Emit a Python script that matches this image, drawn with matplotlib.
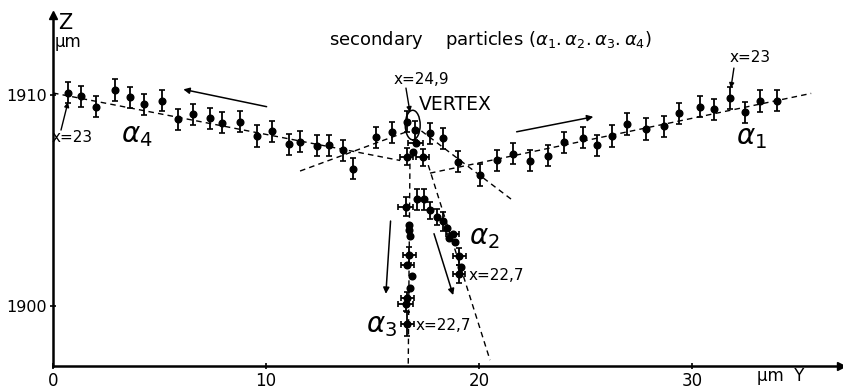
import matplotlib
matplotlib.use("Agg")
import matplotlib.pyplot as plt
from matplotlib.patches import Ellipse

plt.rcParams['font.family'] = ['DejaVu Sans']

# ---------------- data (Y in µm, Z in µm) ----------------
a4_y = [0.72, 1.31, 2.02, 2.91, 3.62, 4.27, 5.10, 5.88, 6.56, 7.37, 7.92, 8.78, 9.56, 10.30,
        11.09, 11.60, 12.38, 12.97, 13.63, 14.10, 15.16, 15.90]
a4_z = [1910.11, 1909.95, 1909.45, 1910.24, 1909.89, 1909.57, 1909.73, 1908.85, 1909.10, 1908.90,
        1908.69, 1908.74, 1908.06, 1908.29, 1907.66, 1907.79, 1907.60, 1907.63, 1907.39, 1906.50,
        1908.00, 1908.23]

vtx_y = [16.60, 17.00, 17.04, 16.60, 16.89, 17.36]
vtx_z = [1908.73, 1908.34, 1907.74, 1907.08, 1907.31, 1907.05]
vtx_xerr = [0, 0, 0.35, 0.3, 0, 0.3]
vtx_yerr = [0.5, 0.45, 0, 0.4, 0, 0.4]

a1_y = [17.70, 18.32, 19.03, 20.05, 20.83, 21.58, 22.39, 23.25, 23.99, 24.87, 25.55, 26.26,
        26.93, 27.83, 28.70, 29.40, 30.38, 31.02, 31.80, 32.49, 33.21, 33.98]
a1_z = [1908.18, 1907.95, 1906.84, 1906.21, 1906.92, 1907.22, 1906.88, 1907.12, 1907.76, 1907.98,
        1907.63, 1908.06, 1908.63, 1908.39, 1908.53, 1909.13, 1909.45, 1909.32, 1909.86, 1909.19,
        1909.72, 1909.73]

a2_y = [17.07, 17.42, 17.70, 18.04, 18.32, 18.48, 18.76, 18.61, 18.87, 19.08, 19.15, 19.06]
a2_z = [1905.07, 1905.07, 1904.54, 1904.22, 1904.03, 1903.68, 1903.43, 1903.21, 1903.05,
        1902.37, 1901.86, 1901.52]
a2_xerr = [0, 0, 0, 0, 0, 0, 0.3, 0, 0, 0.3, 0, 0.3]
a2_yerr = [0.5, 0.5, 0.4, 0.4, 0.45, 0, 0, 0, 0, 0.4, 0, 0.45]

a3_y = [16.57, 16.73, 16.73, 16.76, 16.73, 16.64, 16.84, 16.76, 16.64, 16.57, 16.64]
a3_z = [1904.71, 1903.84, 1903.60, 1903.32, 1902.42, 1901.94, 1901.42, 1900.84, 1900.36,
        1900.09, 1899.15]
a3_xerr = [0.35, 0, 0, 0, 0.3, 0.3, 0, 0, 0.3, 0.35, 0.3]
a3_yerr = [0.45, 0, 0, 0, 0.4, 0, 0, 0, 0.3, 0.3, 0.55]

# dashed fit lines: (y0, z0, y1, z1)
fit_lines = [
    (0.0, 1910.10, 16.3, 1906.90),    # alpha4 fit
    (11.6, 1906.40, 16.6, 1908.26),   # alpha1 back-extension
    (17.3, 1908.30, 21.6, 1905.00),   # alpha4 forward extension
    (17.7, 1906.30, 35.6, 1910.08),   # alpha1 fit
    (16.76, 1906.75, 16.68, 1897.20), # alpha3 fit
    (17.62, 1906.68, 20.52, 1897.44), # alpha2 fit
]

# direction arrows: (tail_y, tail_z, head_y, head_z)
dir_arrows = [
    (10.03, 1909.45, 6.12, 1910.27),
    (21.77, 1908.26, 25.37, 1908.97),
    (15.85, 1904.03, 15.63, 1900.58),
    (17.89, 1903.43, 18.79, 1900.52),
]

x_ticks = [0, 10, 20, 30]
x_ticklabels = ["0", "10", "20", "30"]
y_ticks = [1900, 1910]
y_ticklabels = ["1900", "1910"]

# ---------------- figure ----------------
W, H = 843, 389
fig = plt.figure(figsize=(W / 100, H / 100), dpi=100)
ax = fig.add_axes([53 / W, 23 / H, 788 / W, 351 / H])
ax.set_xlim(0, 37)
ax.set_ylim(1897.16, 1897.16 + 351 / 21.1)

for s in ["top", "right"]:
    ax.spines[s].set_visible(False)
for s in ["left", "bottom"]:
    ax.spines[s].set_linewidth(1.8)
ax.plot(1, 0, ">", color="k", ms=6, transform=ax.transAxes, clip_on=False)
ax.plot(0, 1, "^", color="k", ms=6, transform=ax.transAxes, clip_on=False)

ax.set_xticks(x_ticks)
ax.set_xticklabels(x_ticklabels, fontsize=12)
ax.set_yticks(y_ticks)
ax.set_yticklabels(y_ticklabels, fontsize=11.5)
ax.tick_params(axis="both", direction="inout", length=5, width=1.2, pad=2)

dash = dict(color="k", lw=1.0, ls=(0, (4, 3)))
for (y0, z0, y1, z1) in fit_lines:
    ax.plot([y0, y1], [z0, z1], **dash)

eb = dict(fmt="o", color="k", ms=4.8, elinewidth=1.3, capsize=2.5, capthick=1.2)
ax.errorbar(a4_y, a4_z, yerr=0.5, **eb)
ax.errorbar(a1_y, a1_z, yerr=0.5, **eb)
ax.errorbar(vtx_y, vtx_z, xerr=vtx_xerr, yerr=vtx_yerr, **eb)
ax.errorbar(a2_y, a2_z, xerr=a2_xerr, yerr=a2_yerr, **eb)
ax.errorbar(a3_y, a3_z, xerr=a3_xerr, yerr=a3_yerr, **eb)

for (y0, z0, y1, z1) in dir_arrows:
    ax.annotate("", xy=(y1, z1), xytext=(y0, z0),
                arrowprops=dict(arrowstyle="-|>", color="k", lw=1.1,
                                mutation_scale=9, shrinkA=0, shrinkB=0))

# vertex ellipse
ax.add_patch(Ellipse((16.89, 1908.58), 0.7, 1.4, fill=False, ec="k", lw=1.1))

# ---------------- annotations (pixel positions) ----------------
def fx(px):
    return px / W

def fy(py):
    return 1 - py / H

fig.text(fx(58), fy(23), "Z", fontsize=15, ha="left", va="center")
fig.text(fx(55), fy(42), "µm", fontsize=12, ha="left", va="center")
fig.text(fx(757), fy(376), "µm  Y", fontsize=12, ha="left", va="center")

fig.text(fx(329), fy(40),
         r"secondary    particles ($\alpha_{1}.\alpha_{2}.\alpha_{3}.\alpha_{4}$)",
         fontsize=13, ha="left", va="center")

fig.text(fx(421), fy(80), "x=24,9", fontsize=11, ha="center", va="center")
fig.text(fx(455), fy(104), "VERTEX", fontsize=13.5, ha="center", va="center")
ax.annotate("", xy=((410 - 53) / 21.3, 1910 + (95 - 112) / 21.1),
            xytext=((406 - 53) / 21.3, 1910 + (95 - 88) / 21.1),
            arrowprops=dict(arrowstyle="-|>", color="k", lw=1.0, mutation_scale=7,
                            shrinkA=0, shrinkB=0))

fig.text(fx(72), fy(138), "x=23", fontsize=11, ha="center", va="center")
ax.annotate("", xy=((68 - 53) / 21.3, 1910 + (95 - 102) / 21.1),
            xytext=((61 - 53) / 21.3, 1910 + (95 - 130) / 21.1),
            arrowprops=dict(arrowstyle="-|>", color="k", lw=1.0, mutation_scale=7,
                            shrinkA=0, shrinkB=0))

fig.text(fx(750), fy(58), "x=23", fontsize=11, ha="center", va="center")
ax.annotate("", xy=((731 - 53) / 21.3, 1910 + (95 - 88) / 21.1),
            xytext=((734 - 53) / 21.3, 1910 + (95 - 68) / 21.1),
            arrowprops=dict(arrowstyle="-|>", color="k", lw=1.0, mutation_scale=7,
                            shrinkA=0, shrinkB=0))

fig.text(fx(137), fy(135), r"$\alpha_4$", fontsize=20, ha="center", va="center")
fig.text(fx(751), fy(137), r"$\alpha_1$", fontsize=20, ha="center", va="center")
fig.text(fx(484), fy(237), r"$\alpha_2$", fontsize=20, ha="center", va="center")
fig.text(fx(382), fy(325), r"$\alpha_3$", fontsize=20, ha="center", va="center")

fig.text(fx(496), fy(276), "x=22,7", fontsize=11, ha="center", va="center")
fig.text(fx(443), fy(325), "x=22,7", fontsize=11, ha="center", va="center")

fig.savefig("out.png", dpi=100)
